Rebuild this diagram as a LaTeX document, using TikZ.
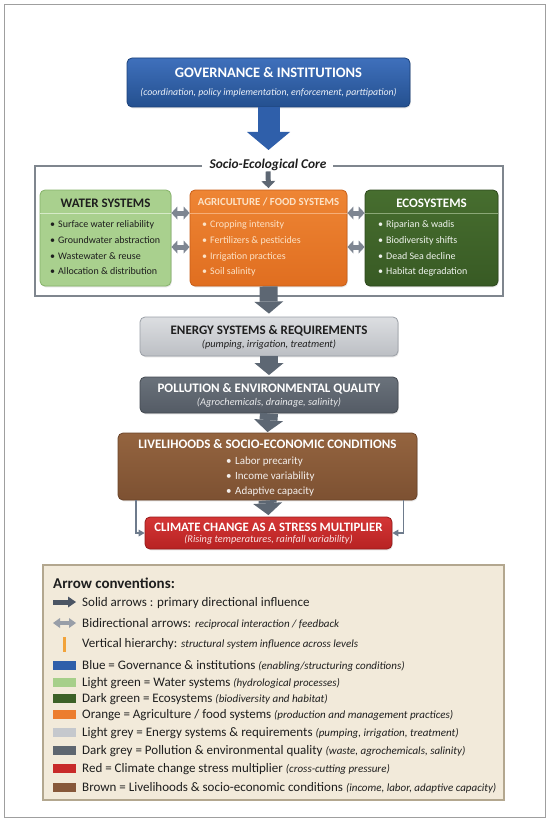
\documentclass[tikz,border=0pt]{standalone}
\usepackage{fontspec}
\setmainfont{Carlito}
\usetikzlibrary{arrows.meta,shadows}
\newcommand{\legfont}{\itshape\fontsize{11}{12}\selectfont}
\definecolor{govA}{HTML}{3F70BC}
\definecolor{govB}{HTML}{24508F}
\definecolor{govD}{HTML}{1C427A}
\definecolor{waterF}{HTML}{A9D08E}
\definecolor{waterD}{HTML}{86B26A}
\definecolor{waterL}{HTML}{D6EAC8}
\definecolor{agriA}{HTML}{EE8534}
\definecolor{agriB}{HTML}{E06E20}
\definecolor{agriD}{HTML}{C85E18}
\definecolor{agriL}{HTML}{F6AE78}
\definecolor{agriT}{HTML}{FCE2C6}
\definecolor{ecoA}{HTML}{476E2F}
\definecolor{ecoB}{HTML}{385A24}
\definecolor{ecoD}{HTML}{2C481C}
\definecolor{ecoL}{HTML}{8BA877}
\definecolor{enA}{HTML}{DCDEE1}
\definecolor{enB}{HTML}{BCBFC4}
\definecolor{enD}{HTML}{9A9FA6}
\definecolor{polA}{HTML}{6A727B}
\definecolor{polB}{HTML}{545B65}
\definecolor{polD}{HTML}{434951}
\definecolor{livA}{HTML}{94643F}
\definecolor{livB}{HTML}{7D5132}
\definecolor{livD}{HTML}{6A4329}
\definecolor{cliA}{HTML}{D43636}
\definecolor{cliB}{HTML}{B72222}
\definecolor{cliD}{HTML}{961A1A}
\definecolor{arrG}{HTML}{5D6773}
\definecolor{biG}{HTML}{7E8692}
\definecolor{frameG}{HTML}{7F868E}
\definecolor{legF}{HTML}{F2EADA}
\definecolor{legD}{HTML}{B3A78F}
\definecolor{txtD}{HTML}{1E1E1E}
\definecolor{sideG}{HTML}{6E7B8C}
\definecolor{vertO}{HTML}{F2A33A}
\definecolor{solidA}{HTML}{4B5564}
\definecolor{blueS}{HTML}{2F5FAA}
\definecolor{lgreenS}{HTML}{A6CF8A}
\definecolor{dgreenS}{HTML}{3C6127}
\definecolor{orangeS}{HTML}{EC7D2E}
\definecolor{lgreyS}{HTML}{C5C8CD}
\definecolor{dgreyS}{HTML}{5E6670}
\definecolor{redS}{HTML}{C82A2A}
\definecolor{brownS}{HTML}{87583A}
\begin{document}
\begin{tikzpicture}[x=1pt,y=-1pt,
  blk/.style={rectangle, rounded corners=5pt, inner sep=0pt, line width=0.8pt,
    drop shadow={shadow xshift=0.8pt, shadow yshift=-1.3pt, opacity=0.22}},
  ttl/.style={font=\bfseries\fontsize{13}{15}\selectfont, inner sep=0pt, anchor=base},
  sub/.style={font=\itshape\fontsize{10.3}{12}\selectfont, inner sep=0pt, anchor=base},
  bul/.style={font=\fontsize{10}{12}\selectfont, anchor=base west, inner sep=0pt},
  bigarr/.style={draw=arrG, line width=18pt, -{Triangle[width=29pt,length=12pt,line width=0pt]}},
  smallarr/.style={draw=arrG, line width=5pt, -{Triangle[width=14pt,length=7pt,line width=0pt]}},
  biarr/.style={draw=biG, line width=5pt, {Triangle[width=13pt,length=6pt,line width=0pt]}-{Triangle[width=13pt,length=6pt,line width=0pt]}},
  sidearr/.style={draw=sideG, line width=1.8pt, -{Triangle[width=7pt,length=6pt,line width=0pt]}},
  legtxt/.style={font=\fontsize{13}{15}\selectfont, anchor=base west, inner sep=0pt, text=txtD},
  swatch/.style={rectangle, minimum width=23pt, minimum height=9pt, inner sep=0pt}
]
\useasboundingbox (0,0) rectangle (550,821);
% page frame
\draw[draw=gray!75, line width=1pt] (4,5) rectangle (545,817);

% governance
\node[blk, draw=govD, top color=govA, bottom color=govB, minimum width=283pt, minimum height=49pt] (gov) at (268.5,82.5) {};
\node[ttl, font=\bfseries\fontsize{14.5}{16}\selectfont, text=white] (govT) at (268.5,78) {GOVERNANCE \& INSTITUTIONS};
\node[sub, font=\itshape\fontsize{9.8}{11}\selectfont, text=white!90!govA] (govS) at (268.5,95.5) {(coordination, policy implementation, enforcement, parttipation)};
\coordinate (govTip) at (268.5,150);
\draw[draw=blueS, line width=22pt, -{Triangle[width=43pt,length=18pt,line width=0pt]}] (gov.south) -- (govTip);

% core frame
\node[font=\bfseries\itshape\fontsize{13.4}{15}\selectfont, inner sep=0pt, anchor=base, text=txtD] (coreT) at (268,168) {Socio-Ecological Core};
\draw[draw=frameG, line width=1.6pt] (202,166) -- (35,166) -- (35,296) -- (503,296) -- (503,166) -- (333,166);

% water
\node[blk, draw=waterD, fill=waterF, minimum width=131pt, minimum height=96pt] (water) at (105.5,238) {};
\draw[draw=waterL, line width=1pt] ([yshift=25pt]water.west) -- ([yshift=25pt]water.east);
\node[ttl, text=txtD] (waterT) at (105.5,207) {WATER SYSTEMS};
\node[bul, text=txtD] (w1) at (50,227.5) {\textbullet\hspace{3pt}Surface water reliability};
\node[bul, text=txtD] (w2) at (50,243.5) {\textbullet\hspace{3pt}Groundwater abstraction};
\node[bul, text=txtD] (w3) at (50,259.5) {\textbullet\hspace{3pt}Wastewater \& reuse};
\node[bul, text=txtD] (w4) at (50,274.5) {\textbullet\hspace{3pt}Allocation \& distribution};

% agriculture
\node[blk, draw=agriD, top color=agriA, bottom color=agriB, minimum width=157pt, minimum height=96pt] (agri) at (268.5,238) {};
\draw[draw=agriL, line width=1pt] ([yshift=25pt]agri.west) -- ([yshift=25pt]agri.east);
\node[ttl, font=\bfseries\fontsize{10.8}{13}\selectfont, text=agriT] (agriTt) at (268.5,205.5) {AGRICULTURE / FOOD SYSTEMS};
\node[bul, text=agriT] (a1) at (202,227.5) {\textbullet\hspace{3pt}Cropping intensity};
\node[bul, text=agriT] (a2) at (202,243.5) {\textbullet\hspace{3pt}Fertilizers \& pesticides};
\node[bul, text=agriT] (a3) at (202,259.5) {\textbullet\hspace{3pt}Irrigation practices};
\node[bul, text=agriT] (a4) at (202,274.5) {\textbullet\hspace{3pt}Soil salinity};

% ecosystems
\node[blk, draw=ecoD, top color=ecoA, bottom color=ecoB, minimum width=133pt, minimum height=96pt] (eco) at (431.5,238) {};
\draw[draw=ecoL, line width=1pt] ([yshift=25pt]eco.west) -- ([yshift=25pt]eco.east);
\node[ttl, text=white] (ecoT) at (431.5,207) {ECOSYSTEMS};
\node[bul, text=white!92!ecoA] (e1) at (378,227.5) {\textbullet\hspace{3pt}Riparian \& wadis};
\node[bul, text=white!92!ecoA] (e2) at (378,243.5) {\textbullet\hspace{3pt}Biodiversity shifts};
\node[bul, text=white!92!ecoA] (e3) at (378,259.5) {\textbullet\hspace{3pt}Dead Sea decline};
\node[bul, text=white!92!ecoA] (e4) at (378,274.5) {\textbullet\hspace{3pt}Habitat degradation};

% bidirectional arrows in core
\draw[biarr] ([yshift=25pt]water.east) -- ([yshift=25pt]agri.west);
\draw[biarr] ([yshift=-9pt]water.east) -- ([yshift=-9pt]agri.west);
\draw[biarr] ([yshift=25pt]agri.east) -- ([yshift=25pt]eco.west);
\draw[biarr] ([yshift=-9pt]agri.east) -- ([yshift=-9pt]eco.west);
\draw[smallarr, shorten <=1pt, shorten >=1.5pt] (coreT.south) -- (agri.north);

% energy
\node[blk, draw=enD, top color=enA, bottom color=enB, minimum width=258pt, minimum height=39pt] (en) at (269,336.5) {};
\node[ttl, text=txtD] (enT) at (269,334) {ENERGY SYSTEMS \& REQUIREMENTS};
\node[sub, text=txtD] (enS) at (269,347.5) {(pumping, irrigation, treatment)};

% pollution
\node[blk, draw=polD, top color=polA, bottom color=polB, minimum width=258pt, minimum height=36pt] (pol) at (269,395) {};
\node[ttl, text=white] (polT) at (269,392.2) {POLLUTION \& ENVIRONMENTAL QUALITY};
\node[sub, text=white!85!polA] (polS) at (269,405.5) {(Agrochemicals, drainage, salinity)};

% livelihoods
\node[blk, draw=livD, top color=livA, bottom color=livB, minimum width=299pt, minimum height=67pt] (liv) at (267.5,466.5) {};
\node[ttl, text=white] (livT) at (267.5,448.2) {LIVELIHOODS \& SOCIO-ECONOMIC CONDITIONS};
\node[bul, font=\fontsize{11}{13}\selectfont, text=white!90!livA] (l1) at (226,464) {\textbullet\hspace{3.5pt}Labor precarity};
\node[bul, font=\fontsize{11}{13}\selectfont, text=white!90!livA] (l2) at (226,479) {\textbullet\hspace{3.5pt}Income variability};
\node[bul, font=\fontsize{11}{13}\selectfont, text=white!90!livA] (l3) at (226,494) {\textbullet\hspace{3.5pt}Adaptive capacity};

% climate
\node[blk, draw=cliD, top color=cliA, bottom color=cliB, minimum width=247pt, minimum height=32pt] (cli) at (268.5,533) {};
\node[ttl, font=\bfseries\fontsize{12.8}{15}\selectfont, text=white] (cliT) at (268.5,531.3) {CLIMATE CHANGE AS A STRESS MULTIPLIER};
\node[sub, text=white!85!cliA] (cliS) at (268.5,542.8) {(Rising temperatures, rainfall variability)};

% main vertical arrows
\draw[bigarr, shorten >=3pt] (agri.south) -- (en.north);
\draw[bigarr, shorten >=1.5pt] (en.south) -- (pol.north);
\draw[bigarr, shorten >=0.5pt] (pol.south) -- (liv.north);
\draw[bigarr, shorten >=1.5pt] (liv.south) -- (cli.north);
\draw[sidearr] ([xshift=18pt]liv.south west) |- (cli.west);
\draw[sidearr] ([xshift=-14pt]liv.south east) |- (cli.east);

% legend
\node[rectangle, draw=legD, fill=legF, line width=1.2pt, minimum width=461pt, minimum height=235pt, inner sep=0pt,
  drop shadow={shadow xshift=0.8pt, shadow yshift=-1.3pt, opacity=0.18}] (leg) at (273.5,682.5) {};
\node[font=\bfseries\fontsize{15}{17}\selectfont, anchor=base west, inner sep=0pt, text=txtD] (legT) at (53,588) {Arrow conventions:};

\coordinate (s1a) at (53,602); \coordinate (s1b) at (76,602);
\draw[draw=solidA, line width=5pt, -{Triangle[width=11pt,length=8pt,line width=0pt]}] (s1a) -- (s1b);
\node[legtxt] (t1) at (82,606.3) {Solid arrows : primary directional influence};

\coordinate (s2a) at (53,623); \coordinate (s2b) at (76,623);
\draw[draw=biG!80!white, line width=4pt, {Triangle[width=10pt,length=7pt,line width=0pt]}-{Triangle[width=10pt,length=7pt,line width=0pt]}] (s2a) -- (s2b);
\node[legtxt] (t2) at (82,627.3) {Bidirectional arrows: {\legfont reciprocal interaction / feedback}};

\coordinate (s3a) at (64.5,637); \coordinate (s3b) at (64.5,652);
\draw[draw=vertO, line width=2.8pt] (s3a) -- (s3b);
\node[legtxt] (t3) at (82,647.3) {Vertical hierarchy: {\legfont structural system influence across levels}};

\node[swatch, fill=blueS] (sw4) at (64.5,665) {};
\node[legtxt] (t4) at (82,669.3) {Blue = Governance \& institutions {\legfont (enabling/structuring conditions)}};
\node[swatch, fill=lgreenS] (sw5) at (64.5,682) {};
\node[legtxt] (t5) at (82,686.3) {Light green = Water systems {\legfont (hydrological processes)}};
\node[swatch, fill=dgreenS] (sw6) at (64.5,698) {};
\node[legtxt] (t6) at (82,702.3) {Dark green = Ecosystems {\legfont (biodiversity and habitat)}};
\node[swatch, fill=orangeS] (sw7) at (64.5,714.5) {};
\node[legtxt] (t7) at (82,718.8) {Orange = Agriculture / food systems {\legfont (production and management practices)}};
\node[swatch, fill=lgreyS] (sw8) at (64.5,732) {};
\node[legtxt] (t8) at (82,736.3) {Light grey = Energy systems \& requirements {\legfont (pumping, irrigation, treatment)}};
\node[swatch, fill=dgreyS] (sw9) at (64.5,750) {};
\node[legtxt] (t9) at (82,754.3) {Dark grey = Pollution \& environmental quality {\legfont (waste, agrochemicals, salinity)}};
\node[swatch, fill=redS] (sw10) at (64.5,768) {};
\node[legtxt] (t10) at (82,772.3) {Red = Climate change stress multiplier {\legfont (cross-cutting pressure)}};
\node[swatch, fill=brownS] (sw11) at (64.5,787) {};
\node[legtxt] (t11) at (82,791.3) {Brown = Livelihoods \& socio-economic conditions {\legfont (income, labor, adaptive capacity)}};
\end{tikzpicture}
\end{document}
